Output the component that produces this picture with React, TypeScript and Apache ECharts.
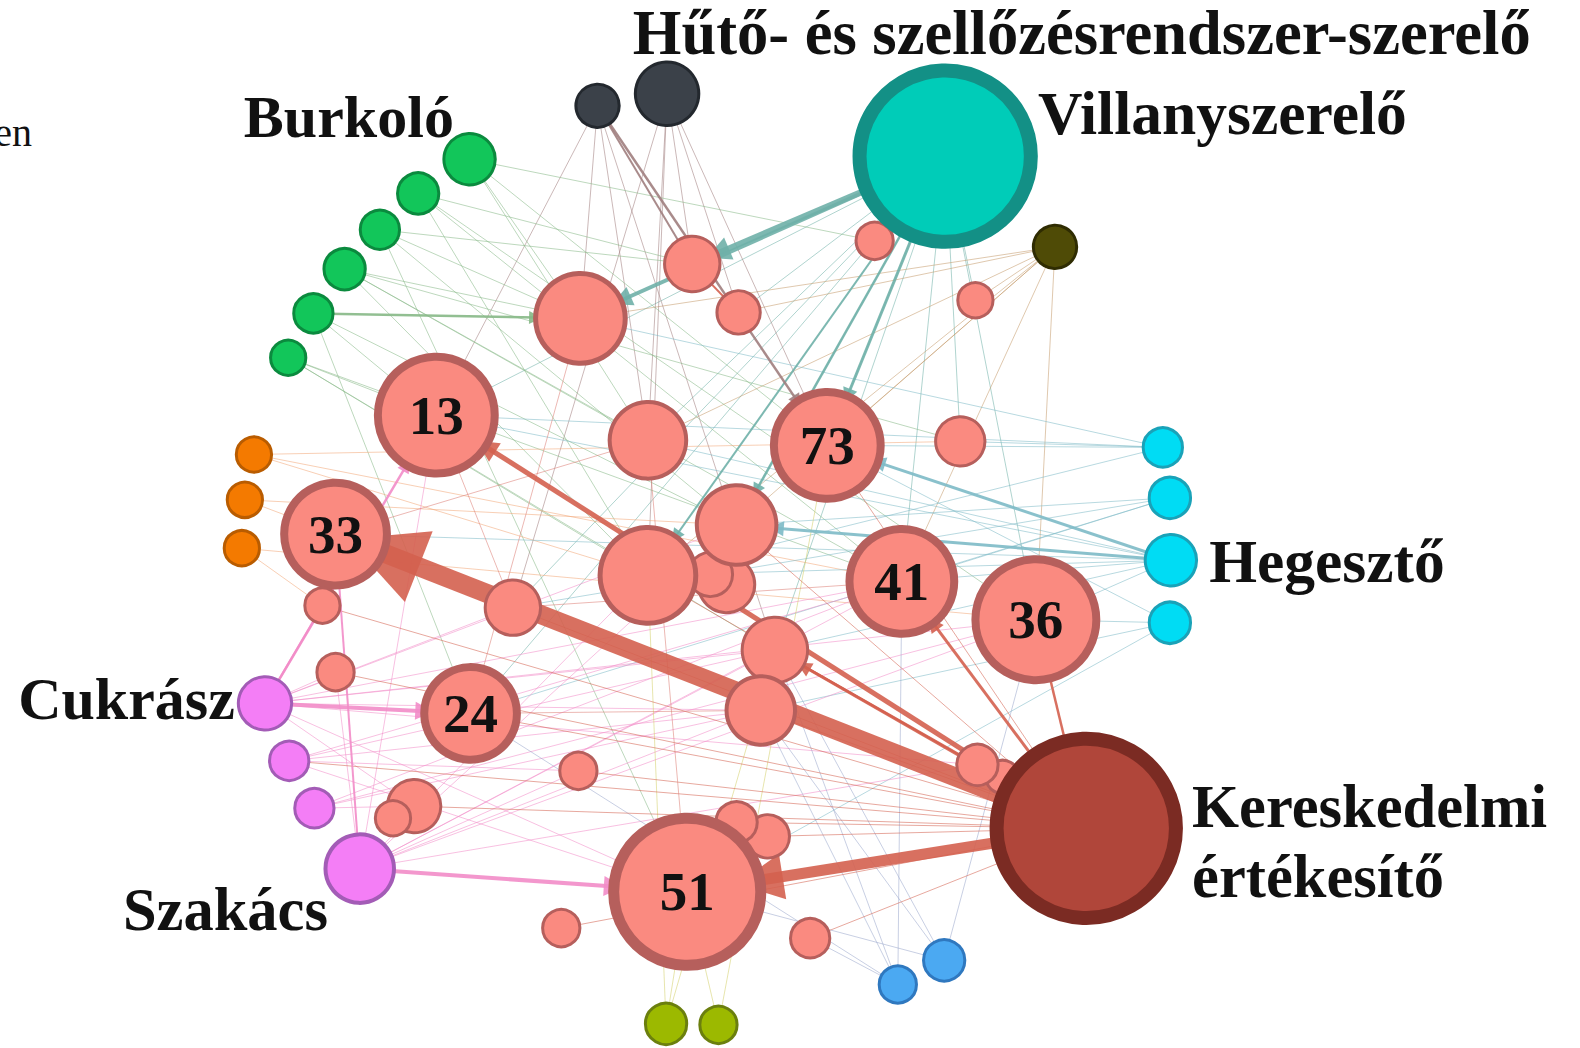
import React, { useEffect, useRef } from "react";
import * as echarts from "echarts";

// ---------- data ----------
const nodeNames = [
  "hutoA", "hutoB", "s4", "villany", "olive",
  "g1", "g2", "g3", "g4", "g5", "g6",
  "o1", "o2", "o3",
  "c1", "c2", "heg", "c4",
  "cuk", "p2", "p3", "szak",
  "y1", "y2", "b1", "b2",
  "n13", "n33", "n24", "s21", "s20", "n51", "n73", "n41", "n36",
  "s1", "s2", "s3", "s5", "s6", "s7",
  "s8", "s9", "s10", "s11", "s12", "s13", "s14", "s15", "s16", "s17",
  "s18", "s19", "s22", "s23", "s25", "s24", "ker",
];
const nodeX = [
  593, 662, 868, 938, 1047,
  466, 415, 377, 342, 311, 286,
  252, 243, 240,
  1154, 1161, 1162, 1161,
  263, 287, 312, 357,
  661, 713, 891, 937,
  433, 333, 467, 762, 731, 682, 821, 895, 1028,
  576, 687, 733, 968, 643, 953,
  721, 705, 731, 643, 769, 755, 509, 320, 333, 574,
  411, 390, 557, 804, 995, 970, 1078,
];
const nodeY = [
  105, 93, 239, 155, 245,
  158, 192, 228, 267, 311, 355,
  451, 496, 544,
  444, 494, 556, 618,
  698, 755, 802, 862,
  1016, 1017, 977, 953,
  412, 530, 708, 830, 816, 885, 442, 577, 615,
  316, 262, 310, 298, 437, 438,
  580, 570, 521, 571, 645, 705, 603, 601, 667, 765,
  800, 812, 921, 931, 771, 759, 822,
];
const nodeSize = [
  46, 66, 40, 184, 46,
  54, 44, 42, 44, 42, 38,
  38, 38, 38,
  42, 44, 54, 44,
  56, 42, 42, 72,
  44, 40, 40, 44,
  124, 110, 100, 46, 44, 157, 114, 112, 128,
  94, 58, 46, 38, 80, 52,
  59, 47, 83, 100, 68, 72, 58, 38, 40, 40,
  56, 38, 40, 42, 36, 44, 192,
];
const nodeGroup = [
  "dark", "dark", "salmon", "teal", "olive",
  "green", "green", "green", "green", "green", "green",
  "orange", "orange", "orange",
  "cyan", "cyan", "cyan", "cyan",
  "pink", "pink", "pink", "pink",
  "lime", "lime", "blue", "blue",
  "salmon", "salmon", "salmon", "salmon", "salmon", "salmon", "salmon", "salmon", "salmon",
  "salmon", "salmon", "salmon", "salmon", "salmon", "salmon",
  "salmon", "salmon", "salmon", "salmon", "salmon", "salmon", "salmon", "salmon", "salmon", "salmon",
  "salmon", "salmon", "salmon", "salmon", "salmon", "salmon", "ker",
];
const nodeLabels: Record<string, string> = {
  n13: "13", n33: "33", n24: "24", n51: "51", n73: "73", n41: "41", n36: "36",
};

// [source, target, width, arrowSize]
const strongLinks: [string, string, number, number][] = [
  ["ker", "n33", 19, 76],
  ["ker", "n51", 11, 46],
  ["ker", "n13", 5, 22],
  ["ker", "n41", 3, 15],
  ["ker", "s12", 3, 15],
  ["s24", "s12", 2.5, 0],
  ["ker", "n36", 2.5, 0],
  ["villany", "s2", 6, 24],
  ["villany", "s1", 4, 20],
  ["villany", "n73", 3, 15],
  ["villany", "s10", 2.5, 13],
  ["villany", "s11", 2, 13],
  ["heg", "n73", 3, 15],
  ["heg", "s10", 3, 15],
  ["g5", "s1", 2.5, 13],
  ["cuk", "n24", 4, 18],
  ["szak", "n51", 4, 20],
  ["cuk", "n13", 2.5, 13],
  ["hutoA", "n73", 2.5, 13],
  ["hutoA", "s2", 2, 0],
  ["cuk", "s15", 2, 0],
  ["szak", "n33", 2, 0],
  ["s2", "s3", 2, 0],
];

const weakLinks: [string, string][] = [
  ["villany", "s4"], ["villany", "n36"], ["villany", "s7"], ["villany", "n41"], ["villany", "s14"],
  ["villany", "n13"], ["villany", "s6"], ["villany", "s5"], ["villany", "s12"], ["villany", "n24"],
  ["villany", "n73"], ["villany", "s10"], ["villany", "s3"],
  ["olive", "s5"], ["olive", "n73"], ["olive", "n36"], ["olive", "s10"], ["olive", "s11"],
  ["olive", "s3"], ["olive", "n41"], ["olive", "s6"], ["olive", "s1"],
  ["hutoA", "s6"], ["hutoA", "s1"], ["hutoA", "n13"], ["hutoA", "s12"],
  ["hutoB", "s6"], ["hutoB", "s2"], ["hutoB", "s11"], ["hutoB", "n73"], ["hutoB", "s3"], ["hutoB", "s14"],
  ["g1", "s6"], ["g1", "s4"], ["g1", "n73"], ["g1", "s1"], ["g2", "s2"], ["g2", "s11"], ["g2", "n41"],
  ["g2", "n36"], ["g3", "s1"], ["g3", "s10"], ["g3", "n51"], ["g3", "s2"], ["g4", "s6"], ["g4", "s11"],
  ["g4", "n41"], ["g4", "s7"], ["g4", "s1"], ["g5", "n24"], ["g5", "n13"], ["g6", "n13"], ["g6", "s11"],
  ["g6", "n41"], ["g6", "s12"], ["g5", "s10"],
  ["o1", "n41"], ["o1", "s7"], ["o2", "n33"], ["o2", "s10"], ["o3", "s15"], ["o3", "n36"], ["o1", "s11"],
  ["c1", "n73"], ["c1", "s7"], ["c1", "n13"], ["c1", "s11"], ["c2", "s10"], ["c2", "n41"], ["c2", "s14"],
  ["c2", "n24"], ["heg", "n36"], ["heg", "n41"], ["heg", "s12"], ["heg", "n13"], ["heg", "s6"],
  ["c4", "n36"], ["c4", "n73"], ["c4", "s13"], ["c4", "n51"], ["c1", "s1"], ["heg", "s11"], ["heg", "n33"],
  ["cuk", "n41"], ["cuk", "s12"], ["cuk", "s10"], ["cuk", "n36"], ["cuk", "s13"], ["cuk", "s16"],
  ["cuk", "s18"], ["cuk", "n51"], ["cuk", "s14"], ["cuk", "s24"], ["p2", "n41"], ["p2", "s12"], ["p2", "s13"],
  ["p2", "s17"], ["p2", "n51"], ["p3", "s13"], ["p3", "n41"], ["p3", "s18"], ["p3", "n36"],
  ["szak", "s10"], ["szak", "s12"], ["szak", "n41"], ["szak", "s13"], ["szak", "s17"], ["szak", "n13"],
  ["szak", "s11"], ["szak", "n36"], ["szak", "s24"], ["szak", "s16"],
  ["y1", "s12"], ["y1", "s11"], ["y2", "n51"], ["y2", "n73"], ["y1", "n51"],
  ["b1", "n41"], ["b2", "n36"], ["b1", "s13"], ["b2", "s12"], ["b1", "n24"], ["b2", "s13"],
  ["b1", "s23"], ["b2", "n51"], ["b1", "s12"],
  ["ker", "s13"], ["ker", "s11"], ["ker", "n24"], ["ker", "s17"], ["ker", "s23"], ["ker", "s10"],
  ["ker", "n73"], ["ker", "s14"], ["ker", "s18"], ["ker", "s16"], ["ker", "s21"], ["ker", "p2"],
  ["ker", "s22"], ["ker", "s15"], ["ker", "s20"],
  ["n13", "s14"], ["n24", "s1"], ["n33", "s6"], ["s6", "n51"], ["s14", "n41"], ["s13", "n24"],
];

const groupLabels = [
  { text: "Hűtő- és szellőzésrendszer-szerelő", x: 628, y: 33, size: 62.5 },
  { text: "Villanyszerelő", x: 1030, y: 112.5, size: 61.5 },
  { text: "Burkoló", x: 242, y: 116, size: 60 },
  { text: "Hegesztő", x: 1200, y: 557, size: 61.5 },
  { text: "Cukrász", x: 18, y: 694, size: 60 },
  { text: "Kereskedelmi", x: 1183, y: 800, size: 60.5 },
  { text: "értékesítő", x: 1183, y: 870, size: 60.5 },
  { text: "Szakács", x: 122, y: 903, size: 60.5 },
];

// ---------- styles ----------
const palette: Record<string, { fill: string; border: string; edge: string }> = {
  dark: { fill: "#3B4149", border: "#23282E", edge: "#A07E7E" },
  teal: { fill: "#00CCB8", border: "#139086", edge: "#6FB0A8" },
  olive: { fill: "#4F4B06", border: "#2F2C02", edge: "#C49A6C" },
  green: { fill: "#12C65A", border: "#0B8A3E", edge: "#86B886" },
  orange: { fill: "#F47A00", border: "#B95C00", edge: "#F2A878" },
  cyan: { fill: "#00DCF4", border: "#1AA2B8", edge: "#7DBAC6" },
  pink: { fill: "#F47EF6", border: "#A35CB6", edge: "#F28CC8" },
  lime: { fill: "#9CB900", border: "#6B7F0E", edge: "#D4CF6A" },
  blue: { fill: "#4BA9F2", border: "#2F78BF", edge: "#9AA8CC" },
  ker: { fill: "#B0463A", border: "#7B2B23", edge: "#D4604F" },
  salmon: { fill: "#FA8A80", border: "#B65F5C", edge: "#DC7E74" },
};

const W = 1580;
const H = 1048;
const REF_W = 1568;
const REF_H = 1040;
const K = W / REF_W;

function borderFor(name: string, size: number) {
  if (name === "villany" || name === "ker") return 14;
  if (nodeLabels[name]) return size > 140 ? 11 : 8;
  if (size >= 90) return 5;
  if (size >= 70) return 4;
  return 3;
}

export default function App() {
  const ref = useRef<HTMLDivElement>(null);
  useEffect(() => {
    if (!ref.current) return;
    const chart = echarts.init(ref.current, undefined, { renderer: "svg" });
    const groupOf: Record<string, string> = {};
    nodeNames.forEach((n, i) => (groupOf[n] = nodeGroup[i]));

    const nodes = nodeNames.map((name, i) => {
      const bw = borderFor(name, nodeSize[i]);
      const p = palette[nodeGroup[i]];
      const lbl = nodeLabels[name];
      return {
        name,
        value: [nodeX[i], nodeY[i]],
        symbolSize: (nodeSize[i] - bw) * K,
        itemStyle: { color: p.fill, borderColor: p.border, borderWidth: bw },
        label: lbl
          ? {
              show: true,
              position: "inside",
              formatter: lbl,
              fontSize: 55,
              fontWeight: "bold",
              fontFamily: "Liberation Serif",
              color: "#111111",
            }
          : { show: false },
      };
    });

    const links: any[] = [];
    weakLinks.forEach(([s, t]) => {
      links.push({
        source: s,
        target: t,
        symbol: ["none", "none"],
        lineStyle: { width: 1, color: palette[groupOf[s]].edge, opacity: 0.55 },
      });
    });
    strongLinks.forEach(([s, t, w, a]) => {
      let col = palette[groupOf[s]].edge;
      if (s === "ker" || s === "s24" || s === "s2") col = "#D4604F";
      links.push({
        source: s,
        target: t,
        symbol: a > 0 ? ["none", "triangle"] : ["none", "none"],
        symbolSize: a > 0 ? [0, a] : [0, 0],
        lineStyle: { width: w, color: col, opacity: 0.9 },
      });
    });

    chart.setOption({
      animation: false,
      backgroundColor: "#ffffff",
      grid: { left: 0, right: 0, top: 0, bottom: 0, containLabel: false },
      xAxis: { type: "value", min: 0, max: REF_W, show: false },
      yAxis: { type: "value", min: 0, max: REF_H, inverse: true, show: false },
      series: [
        {
          type: "graph",
          coordinateSystem: "cartesian2d",
          layout: "none",
          symbol: "circle",
          roam: false,
          silent: true,
          emphasis: { disabled: true },
          data: nodes,
          links,
          lineStyle: { curveness: 0 },
          z: 2,
        },
      ],
      graphic: [
        {
          type: "text",
          x: 32,
          y: 132,
          style: {
            text: "en",
            font: "40px 'Liberation Serif'",
            fill: "#111",
            align: "right",
            verticalAlign: "middle",
          },
        },
        ...groupLabels.map((g) => ({
          type: "text",
          x: g.x * K,
          y: g.y * K,
          z: 10,
          style: {
            text: g.text,
            font: `bold ${g.size}px 'Liberation Serif'`,
            fill: "#111111",
            align: "left",
            verticalAlign: "middle",
          },
        })),
      ],
    });
    return () => chart.dispose();
  }, []);
  return (
    <div
      ref={ref}
      style={{ position: "fixed", left: 0, top: 0, width: W, height: H, background: "#fff" }}
    />
  );
}
